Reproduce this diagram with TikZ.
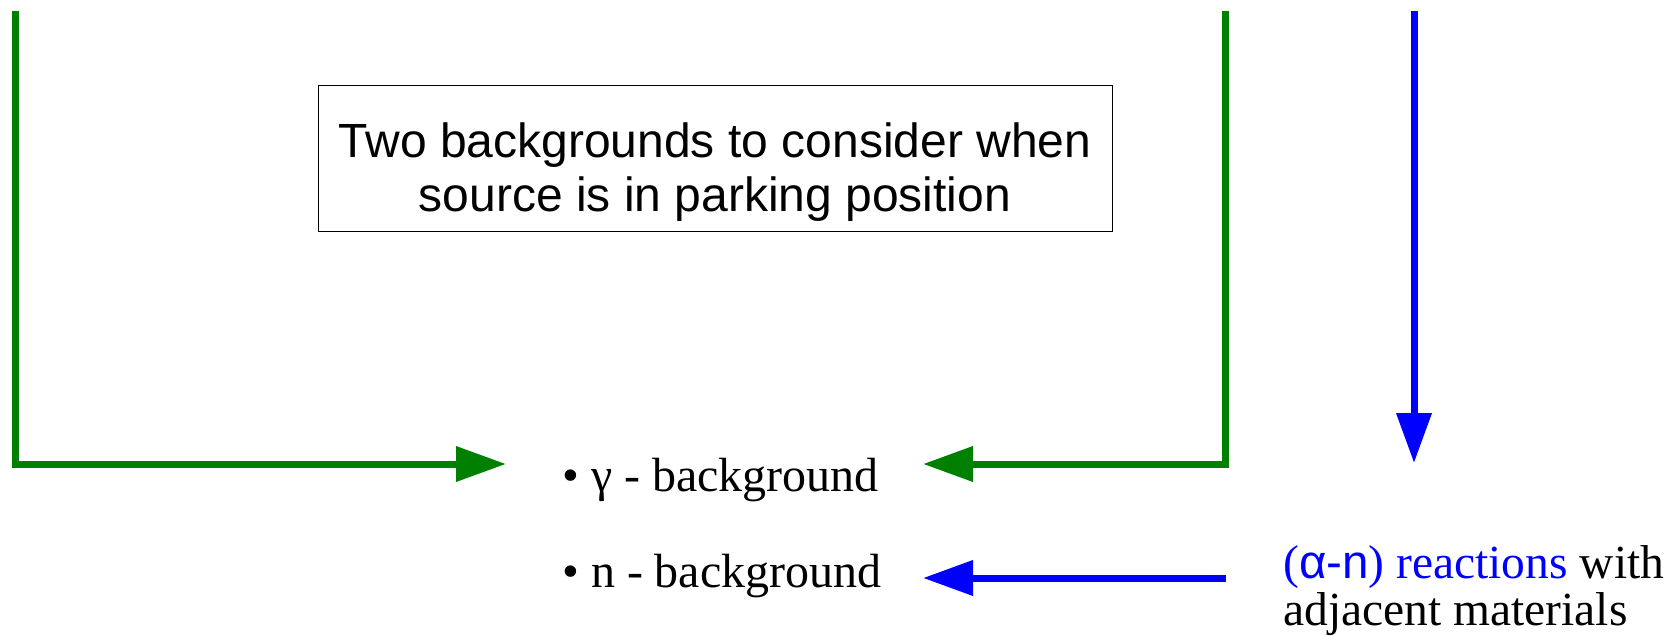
\documentclass[tikz,border=0pt]{standalone}
\usepackage{fontspec}
\setmainfont{Liberation Serif}
\setsansfont{Liberation Sans}
\usepackage{tikz}
\usetikzlibrary{arrows.meta, positioning, calc}
\definecolor{gruen}{RGB}{0,128,0}
\definecolor{blau}{RGB}{0,0,255}
\tikzset{>=Latex}

\begin{document}
\begin{tikzpicture}[x=1pt, y=-1pt,
    pfeil/.style={line width=7pt, -{Triangle[length=50pt, width=34pt]}},
    eintrag/.style={anchor=base west, inner sep=0pt, font=\fontsize{48}{47}\selectfont}]

  % Rahmen des Bildes
  \useasboundingbox (0,0) rectangle (1667,636);

  % Kasten mit der Ueberschrift
  \draw[line width=1pt] (318,86) rectangle (1112,232);
  \node[align=center, font=\sffamily\fontsize{48}{54}\selectfont]
        (titel) at (715,172)
        {Two backgrounds to consider when\\source is in parking position};

  % die beiden Untergruende
  \node[eintrag] (gamma) at (562,491) {• γ - background};
  \node[eintrag] (neutron) at (562,587) {• n - background};

  % Herkunft der Neutronen
  \node[eintrag, align=left, font=\fontsize{47.5}{47}\selectfont] (alphan) at (1283,625)
        {\textcolor{blau}{(\textsf{α-n}) reactions} with\\adjacent materials};

  % Anfangs- und Endpunkte der Pfeile
  \def\oben{11}   % obere Kante der Linien
  \def\yg{464}    % Hoehe der gruenen Pfeile
  \coordinate (linksoben) at (15,\oben);
  \coordinate (rechtsoben) at (1225,\oben);
  \coordinate (quelle) at (1414,\oben);
  \coordinate (gL) at (506,\yg);
  \coordinate (gR) at (923,\yg);
  \coordinate (nR) at (923,578);
  \coordinate (nstart) at (1226,578);
  \coordinate (aoben) at (1414,463);

  % gruene Pfeile zum gamma-Untergrund
  \draw[pfeil, gruen] (linksoben) |- (gL);
  \draw[pfeil, gruen] (rechtsoben) |- (gR);

  % blaue Pfeile
  \draw[pfeil, blau] (quelle) -- (aoben);
  \draw[pfeil, blau] (nstart) -- (nR);

\end{tikzpicture}
\end{document}
